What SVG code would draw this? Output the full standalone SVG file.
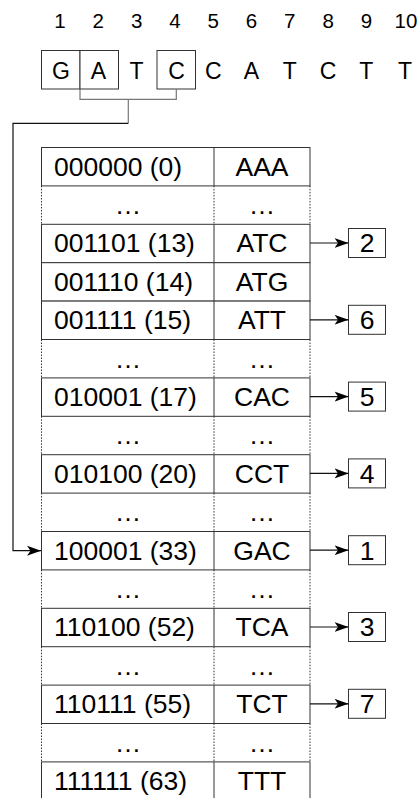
<svg xmlns="http://www.w3.org/2000/svg" width="420" height="798" viewBox="0 0 420 798">
<style>
text{font-family:"Liberation Sans",Arial,sans-serif;fill:#000}
.num{font-size:20.5px;text-anchor:middle}
.seq{font-size:23px;text-anchor:middle}
.cell{font-size:26.5px}
.mid{text-anchor:middle}
.box{fill:#fff;stroke:#333;stroke-width:1}
.row{fill:#fff;stroke:#333;stroke-width:1}
.dash{stroke:#333;stroke-width:1;stroke-dasharray:1.5 1.5;fill:none}
.hl{stroke:#333;stroke-width:1}
.br{fill:none;stroke:#777;stroke-width:1.2}
.con{fill:none;stroke:#111;stroke-width:1.2}
</style>
<defs>
<marker id="ah" markerUnits="userSpaceOnUse" markerWidth="15" markerHeight="12" refX="14" refY="6" orient="auto">
<path d="M0,1 L14,6 L0,11 L3.5,6 z" fill="#000"/>
</marker>
</defs>
<g id="positions">
<text class="num" x="60" y="28">1</text>
<text class="num" x="98.3" y="28">2</text>
<text class="num" x="136.6" y="28">3</text>
<text class="num" x="175" y="28">4</text>
<text class="num" x="213.2" y="28">5</text>
<text class="num" x="251.5" y="28">6</text>
<text class="num" x="289.8" y="28">7</text>
<text class="num" x="328.1" y="28">8</text>
<text class="num" x="366.4" y="28">9</text>
<text class="num" x="406" y="28">10</text>
</g>
<g id="sequence">
<rect class="box" x="41.5" y="50.5" width="38.5" height="38.5"/>
<rect class="box" x="80" y="50.5" width="38.5" height="38.5"/>
<rect class="box" x="157" y="50.5" width="38.5" height="38.5"/>
<text class="seq" x="61" y="78.5">G</text>
<text class="seq" x="98.5" y="78.5">A</text>
<text class="seq" x="136.6" y="78.5">T</text>
<text class="seq" x="176.5" y="78.5">C</text>
<text class="seq" x="213.2" y="78.5">C</text>
<text class="seq" x="251.5" y="78.5">A</text>
<text class="seq" x="289.8" y="78.5">T</text>
<text class="seq" x="328.1" y="78.5">C</text>
<text class="seq" x="366.4" y="78.5">T</text>
<text class="seq" x="405" y="78.5">T</text>
</g>
<g id="table">
<g id="r0"><rect class="row" x="41.5" y="147.5" width="268.5" height="38.4"/><line class="hl" x1="214" y1="147.5" x2="214" y2="185.9"/><text class="cell" x="54" y="175.5">000000 (0)</text><text class="cell mid" x="262" y="175.5">AAA</text></g>
<g id="r1"><path class="dash" d="M41.5,185.9V224.3M214,185.9V224.3M310,185.9V224.3"/><text class="cell mid" x="128" y="213.9">…</text><text class="cell mid" x="262" y="213.9">…</text></g>
<g id="r2"><rect class="row" x="41.5" y="224.3" width="268.5" height="38.4"/><line class="hl" x1="214" y1="224.3" x2="214" y2="262.7"/><text class="cell" x="54" y="252.3">001101 (13)</text><text class="cell mid" x="262" y="252.3">ATC</text></g>
<g id="r3"><rect class="row" x="41.5" y="262.7" width="268.5" height="38.4"/><line class="hl" x1="214" y1="262.7" x2="214" y2="301.1"/><text class="cell" x="54" y="290.7">001110 (14)</text><text class="cell mid" x="262" y="290.7">ATG</text></g>
<g id="r4"><rect class="row" x="41.5" y="301.1" width="268.5" height="38.4"/><line class="hl" x1="214" y1="301.1" x2="214" y2="339.5"/><text class="cell" x="54" y="329.1">001111 (15)</text><text class="cell mid" x="262" y="329.1">ATT</text></g>
<g id="r5"><path class="dash" d="M41.5,339.5V377.9M214,339.5V377.9M310,339.5V377.9"/><text class="cell mid" x="128" y="367.5">…</text><text class="cell mid" x="262" y="367.5">…</text></g>
<g id="r6"><rect class="row" x="41.5" y="377.9" width="268.5" height="38.4"/><line class="hl" x1="214" y1="377.9" x2="214" y2="416.3"/><text class="cell" x="54" y="405.9">010001 (17)</text><text class="cell mid" x="262" y="405.9">CAC</text></g>
<g id="r7"><path class="dash" d="M41.5,416.3V454.7M214,416.3V454.7M310,416.3V454.7"/><text class="cell mid" x="128" y="444.3">…</text><text class="cell mid" x="262" y="444.3">…</text></g>
<g id="r8"><rect class="row" x="41.5" y="454.7" width="268.5" height="38.4"/><line class="hl" x1="214" y1="454.7" x2="214" y2="493.1"/><text class="cell" x="54" y="482.7">010100 (20)</text><text class="cell mid" x="262" y="482.7">CCT</text></g>
<g id="r9"><path class="dash" d="M41.5,493.1V531.5M214,493.1V531.5M310,493.1V531.5"/><text class="cell mid" x="128" y="521.1">…</text><text class="cell mid" x="262" y="521.1">…</text></g>
<g id="r10"><rect class="row" x="41.5" y="531.5" width="268.5" height="38.4"/><line class="hl" x1="214" y1="531.5" x2="214" y2="569.9"/><text class="cell" x="54" y="559.5">100001 (33)</text><text class="cell mid" x="262" y="559.5">GAC</text></g>
<g id="r11"><path class="dash" d="M41.5,569.9V608.3M214,569.9V608.3M310,569.9V608.3"/><text class="cell mid" x="128" y="597.9">…</text><text class="cell mid" x="262" y="597.9">…</text></g>
<g id="r12"><rect class="row" x="41.5" y="608.3" width="268.5" height="38.4"/><line class="hl" x1="214" y1="608.3" x2="214" y2="646.7"/><text class="cell" x="54" y="636.3">110100 (52)</text><text class="cell mid" x="262" y="636.3">TCA</text></g>
<g id="r13"><path class="dash" d="M41.5,646.7V685.1M214,646.7V685.1M310,646.7V685.1"/><text class="cell mid" x="128" y="674.7">…</text><text class="cell mid" x="262" y="674.7">…</text></g>
<g id="r14"><rect class="row" x="41.5" y="685.1" width="268.5" height="38.4"/><line class="hl" x1="214" y1="685.1" x2="214" y2="723.5"/><text class="cell" x="54" y="713.1">110111 (55)</text><text class="cell mid" x="262" y="713.1">TCT</text></g>
<g id="r15"><path class="dash" d="M41.5,723.5V761.9M214,723.5V761.9M310,723.5V761.9"/><text class="cell mid" x="128" y="751.5">…</text><text class="cell mid" x="262" y="751.5">…</text></g>
<g id="r16"><rect class="row" x="41.5" y="761.9" width="268.5" height="38.4"/><line class="hl" x1="214" y1="761.9" x2="214" y2="800.3"/><text class="cell" x="54" y="789.9">111111 (63)</text><text class="cell mid" x="262" y="789.9">TTT</text></g>
</g>
<g id="positions-out">
<g id="p2"><rect class="box" x="348.5" y="228.5" width="37" height="29"/><text class="cell mid" x="367" y="252.3">2</text></g>
<g id="p6"><rect class="box" x="348.5" y="305.3" width="37" height="29"/><text class="cell mid" x="367" y="329.1">6</text></g>
<g id="p5"><rect class="box" x="348.5" y="382.1" width="37" height="29"/><text class="cell mid" x="367" y="405.9">5</text></g>
<g id="p4"><rect class="box" x="348.5" y="458.9" width="37" height="29"/><text class="cell mid" x="367" y="482.7">4</text></g>
<g id="p1"><rect class="box" x="348.5" y="535.7" width="37" height="29"/><text class="cell mid" x="367" y="559.5">1</text></g>
<g id="p3"><rect class="box" x="348.5" y="612.5" width="37" height="29"/><text class="cell mid" x="367" y="636.3">3</text></g>
<g id="p7"><rect class="box" x="348.5" y="689.3" width="37" height="29"/><text class="cell mid" x="367" y="713.1">7</text></g>
</g>
<g id="connectors">
<path class="br" d="M80,89 V99.3 H176.3 V89 M128.3,99.3 V123.3"/>
<path class="con" d="M128.3,123.3 H13 V550.7 H41" marker-end="url(#ah)"/>
<line class="con" x1="310" y1="243" x2="348.5" y2="243" marker-end="url(#ah)"/>
<line class="con" x1="310" y1="319.8" x2="348.5" y2="319.8" marker-end="url(#ah)"/>
<line class="con" x1="310" y1="396.6" x2="348.5" y2="396.6" marker-end="url(#ah)"/>
<line class="con" x1="310" y1="473.4" x2="348.5" y2="473.4" marker-end="url(#ah)"/>
<line class="con" x1="310" y1="550.2" x2="348.5" y2="550.2" marker-end="url(#ah)"/>
<line class="con" x1="310" y1="627" x2="348.5" y2="627" marker-end="url(#ah)"/>
<line class="con" x1="310" y1="703.8" x2="348.5" y2="703.8" marker-end="url(#ah)"/>
</g>
</svg>
